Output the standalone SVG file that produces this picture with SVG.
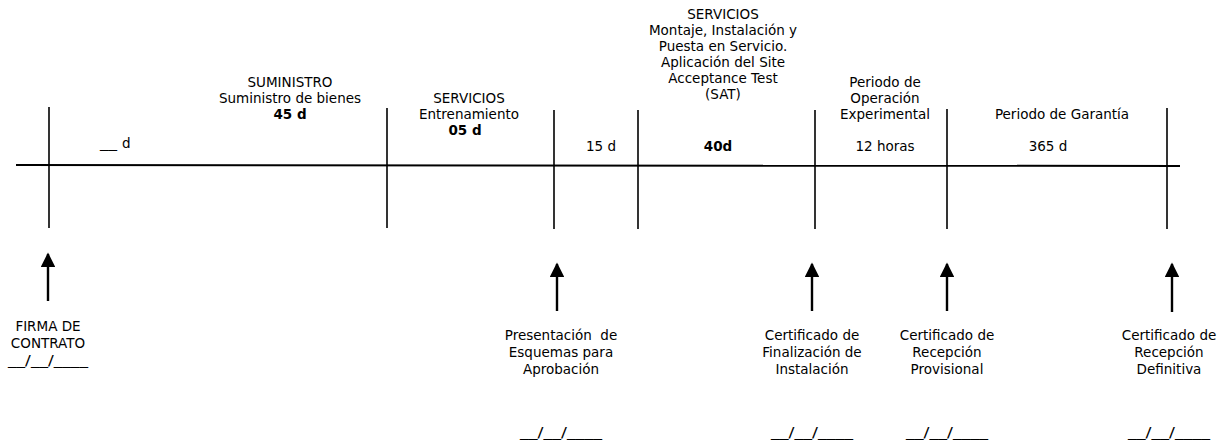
<svg xmlns="http://www.w3.org/2000/svg" width="1222" height="447" viewBox="0 0 1222 447">
<style>
  text { font-family: "DejaVu Sans", "Liberation Sans", sans-serif; font-size: 13.5px; fill: #000; text-anchor: middle; }
  .b { font-weight: bold; }
  .s { text-anchor: start; }
  .pre { white-space: pre; }
  .axis { stroke: #000; stroke-width: 2; fill: none; }
  .tick { stroke: #000; stroke-width: 1.6; fill: none; }
  .arrow { stroke: #000; stroke-width: 2.4; fill: none; marker-end: url(#head); }
</style>
<defs>
  <marker id="head" viewBox="0 0 10 10" refX="9" refY="5" markerWidth="6.5" markerHeight="6" markerUnits="strokeWidth" orient="auto">
    <path d="M0,0 L10,5 L0,10 Z" fill="#000"/>
  </marker>
</defs>

<g id="timeline">
  <line class="axis" x1="16" y1="165" x2="1180" y2="166"/>
  <line class="tick" x1="49" y1="107" x2="49" y2="228"/>
  <line class="tick" x1="387" y1="108" x2="387" y2="228"/>
  <line class="tick" x1="554" y1="110" x2="554" y2="229"/>
  <line class="tick" x1="638" y1="110" x2="638" y2="229"/>
  <line class="tick" x1="815" y1="110" x2="815" y2="229"/>
  <line class="tick" x1="947" y1="109" x2="947" y2="229"/>
  <line class="tick" x1="1167" y1="108" x2="1167" y2="229"/>
</g>

<g id="period-inicial">
  <text class="s" x="100" y="148" textLength="17" lengthAdjust="spacingAndGlyphs">__</text>
  <text class="s" x="122" y="148">d</text>
</g>

<g id="period-suministro">
  <text x="290" y="87">SUMINISTRO</text>
  <text x="290" y="103">Suministro de bienes</text>
  <text class="b" x="290" y="119">45 d</text>
</g>

<g id="period-entrenamiento">
  <text x="469" y="103">SERVICIOS</text>
  <text x="469" y="119">Entrenamiento</text>
  <text class="b" x="465" y="135">05 d</text>
</g>

<g id="period-15d">
  <text x="601" y="151">15 d</text>
</g>

<g id="period-montaje">
  <text x="723" y="19">SERVICIOS</text>
  <text x="723" y="35">Montaje, Instalación y</text>
  <text x="723" y="51">Puesta en Servicio.</text>
  <text x="723" y="67">Aplicación del Site</text>
  <text x="723" y="83">Acceptance Test</text>
  <text x="723" y="99">(SAT)</text>
  <text class="b" x="718" y="151">40d</text>
</g>

<g id="period-operacion">
  <text x="885" y="87">Periodo de</text>
  <text x="885" y="103">Operación</text>
  <text x="885" y="119">Experimental</text>
  <text x="885" y="151">12 horas</text>
</g>

<g id="period-garantia">
  <text x="1062" y="119">Periodo de Garantía</text>
  <text x="1048" y="151">365 d</text>
</g>

<g id="connectors">
  <line class="arrow" x1="48" y1="301" x2="48" y2="254"/>
  <line class="arrow" x1="557" y1="311" x2="557" y2="264"/>
  <line class="arrow" x1="812" y1="311" x2="812" y2="264"/>
  <line class="arrow" x1="947" y1="311" x2="947" y2="264"/>
  <line class="arrow" x1="1172" y1="312" x2="1172" y2="264"/>
</g>

<g id="milestone-firma">
  <text x="48" y="331">FIRMA DE</text>
  <text x="48" y="348">CONTRATO</text>
  <text x="48" y="365" textLength="80" lengthAdjust="spacingAndGlyphs">__/__/____</text>
</g>

<g id="milestone-presentacion">
  <text class="pre" x="561" y="340">Presentación  de</text>
  <text x="561" y="357">Esquemas para</text>
  <text x="561" y="374">Aprobación</text>
  <text x="561" y="437" textLength="82" lengthAdjust="spacingAndGlyphs">__/__/____</text>
</g>

<g id="milestone-finalizacion">
  <text x="812" y="340">Certificado de</text>
  <text x="812" y="357">Finalización de</text>
  <text x="812" y="374">Instalación</text>
  <text x="812" y="437" textLength="82" lengthAdjust="spacingAndGlyphs">__/__/____</text>
</g>

<g id="milestone-provisional">
  <text x="947" y="340">Certificado de</text>
  <text x="947" y="357">Recepción</text>
  <text x="947" y="374">Provisional</text>
  <text x="947" y="437" textLength="82" lengthAdjust="spacingAndGlyphs">__/__/____</text>
</g>

<g id="milestone-definitiva">
  <text x="1169" y="340">Certificado de</text>
  <text x="1169" y="357">Recepción</text>
  <text x="1169" y="374">Definitiva</text>
  <text x="1169" y="437" textLength="82" lengthAdjust="spacingAndGlyphs">__/__/____</text>
</g>
</svg>
